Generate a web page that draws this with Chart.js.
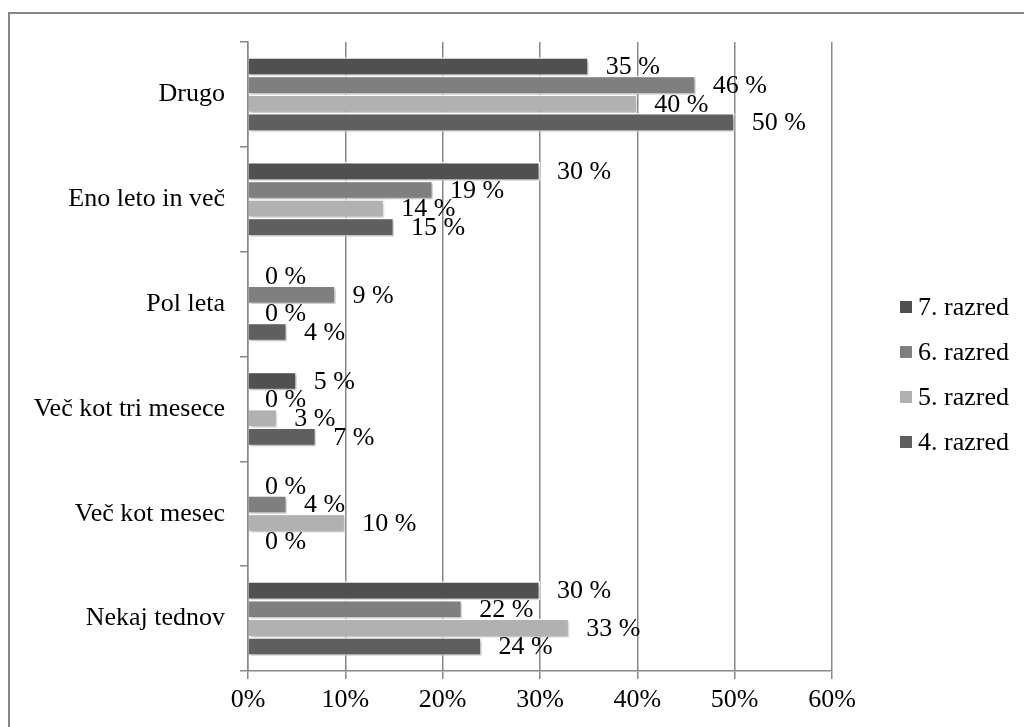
<!DOCTYPE html>
<html>
<head>
<meta charset="utf-8">
<script src="https://cdn.jsdelivr.net/npm/chart.js@4.4.1/dist/chart.umd.min.js"></script>
<style>
html,body{margin:0;padding:0;background:#fff;}
#c{display:block;}
</style>
</head>
<body>
<canvas id="c" width="1024" height="727"></canvas>
<script>
// ---- data ----
const categories = ['Drugo', 'Eno leto in več', 'Pol leta', 'Več kot tri mesece', 'Več kot mesec', 'Nekaj tednov'];
const seriesNames = ['7. razred', '6. razred', '5. razred', '4. razred'];
const razred7 = [35, 30, 0, 5, 0, 30];
const razred6 = [46, 19, 9, 0, 4, 22];
const razred5 = [40, 14, 0, 3, 10, 33];
const razred4 = [50, 15, 4, 7, 0, 24];
const xTickValues = [0, 10, 20, 30, 40, 50, 60];
const seriesColors = ['#505050', '#7f7f7f', '#b1b1b1', '#5f5f5f'];

const FONT = "'Liberation Serif', 'Times New Roman', serif";
const GRID = '#888888';

const seriesData = [razred7, razred6, razred5, razred4];
const datasets = seriesNames.map((n, i) => ({
  label: n,
  data: seriesData[i],
  backgroundColor: seriesColors[i],
  borderColor: '#ffffff',
  borderWidth: 1.5,
  categoryPercentage: 0.71,
  barPercentage: 1.0
}));

const framePlugin = {
  id: 'frame',
  beforeDraw(chart) {
    const ctx = chart.ctx;
    ctx.save();
    ctx.fillStyle = '#fff';
    ctx.fillRect(0, 0, chart.width, chart.height);
    ctx.strokeStyle = '#878787';
    ctx.lineWidth = 2;
    ctx.strokeRect(9, 13, chart.width + 20, chart.height + 20);
    ctx.restore();
  }
};

const shadowPlugin = {
  id: 'barShadow',
  beforeDatasetDraw(chart) {
    const ctx = chart.ctx;
    ctx.save();
    ctx.shadowColor = 'rgba(0,0,0,0.28)';
    ctx.shadowOffsetX = 1.5;
    ctx.shadowOffsetY = 2;
    ctx.shadowBlur = 3;
  },
  afterDatasetDraw(chart) {
    chart.ctx.restore();
  }
};

const labelPlugin = {
  id: 'valueLabels',
  afterDatasetsDraw(chart) {
    const ctx = chart.ctx;
    ctx.save();
    ctx.font = '26px ' + FONT;
    ctx.fillStyle = '#000';
    ctx.textAlign = 'left';
    ctx.textBaseline = 'middle';
    chart.data.datasets.forEach((ds, di) => {
      const meta = chart.getDatasetMeta(di);
      meta.data.forEach((el, i) => {
        ctx.fillText(ds.data[i] + ' %', el.x + 17, el.y + 1);
      });
    });
    ctx.restore();
  }
};

const legendPlugin = {
  id: 'customLegend',
  afterDraw(chart) {
    const ctx = chart.ctx;
    const ca = chart.chartArea;
    const x0 = ca.right + 68;
    const spacing = 45;
    const n = chart.data.datasets.length;
    const cy = (ca.top + ca.bottom) / 2 + 18;
    const y0 = cy - spacing * (n - 1) / 2;
    ctx.save();
    ctx.font = '26px ' + FONT;
    ctx.textAlign = 'left';
    ctx.textBaseline = 'middle';
    chart.data.datasets.forEach((ds, i) => {
      const y = y0 + i * spacing;
      ctx.fillStyle = ds.backgroundColor;
      ctx.fillRect(x0, y - 6, 12, 12);
      ctx.fillStyle = '#000';
      ctx.fillText(ds.label, x0 + 18, y + 1);
    });
    ctx.restore();
  }
};

new Chart(document.getElementById('c'), {
  type: 'bar',
  data: { labels: categories, datasets },
  options: {
    indexAxis: 'y',
    responsive: false,
    animation: false,
    devicePixelRatio: 1,
    layout: { padding: { top: 42, right: 192, left: 0, bottom: 0 } },
    plugins: {
      legend: { display: false },
      tooltip: { enabled: false }
    },
    scales: {
      x: {
        type: 'linear',
        min: xTickValues[0],
        max: xTickValues[xTickValues.length - 1],
        afterBuildTicks(scale) {
          scale.ticks = xTickValues.map(v => ({ value: v }));
        },
        afterFit(scale) { scale.height = 56; },
        ticks: {
          callback: v => v + '%',
          font: { family: FONT, size: 26 },
          color: '#000',
          padding: 6,
          maxRotation: 0
        },
        grid: { color: GRID, lineWidth: 1.5, tickLength: 8, drawTicks: true },
        border: { display: true, color: GRID, width: 1.5 }
      },
      y: {
        type: 'category',
        afterFit(scale) { scale.width = 248; },
        ticks: {
          font: { family: FONT, size: 26 },
          color: '#000',
          padding: 15
        },
        grid: { drawOnChartArea: false, drawTicks: true, tickLength: 8, color: GRID, lineWidth: 1.5, offset: true },
        border: { display: true, color: GRID, width: 1.5 }
      }
    }
  },
  plugins: [framePlugin, shadowPlugin, labelPlugin, legendPlugin]
});
</script>
</body>
</html>
